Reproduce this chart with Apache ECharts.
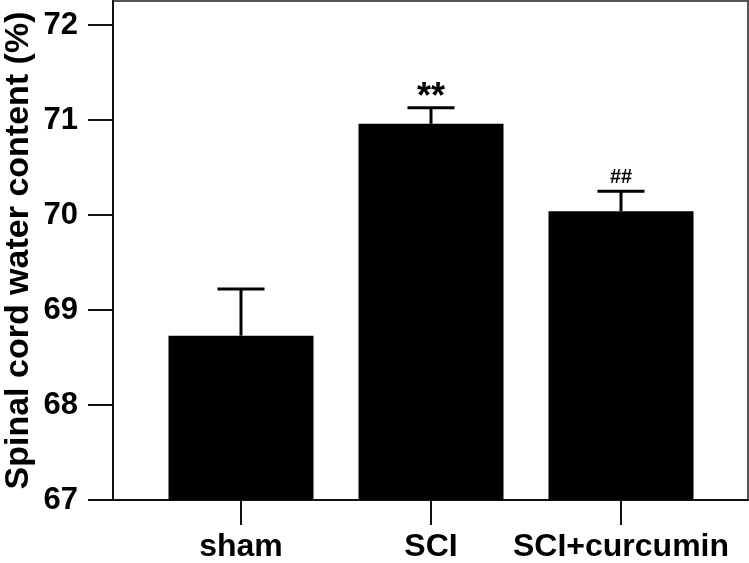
<!DOCTYPE html>
<html><head><meta charset="utf-8">
<script src="https://cdn.jsdelivr.net/npm/echarts@6/dist/echarts.min.js"></script>
<style>html,body{margin:0;padding:0;background:#fff}#c{width:749px;height:563px}</style>
</head><body><div id="c"></div>
<script>
var categories = ['sham', 'SCI', 'SCI+curcumin'];
var means = [68.73, 70.96, 70.04];
var errs = [0.49, 0.17, 0.21];
var marks = ['', '**', '##'];
var yTicks = [67, 68, 69, 70, 71, 72];

var FONT = '"Liberation Sans", Arial, sans-serif';
var chart = echarts.init(document.getElementById('c'), null, {renderer: 'canvas'});

var errData = categories.map(function (c, i) { return [i, means[i], means[i] + errs[i], marks[i]]; });

chart.setOption({
  animation: false,
  backgroundColor: '#fff',
  grid: [
    {left: 113, right: 1, top: 1, bottom: 63, show: true, borderColor: '#555', borderWidth: 2, backgroundColor: 'transparent', containLabel: false, outerBoundsMode: 'none'},
    {left: 146, right: 33, top: 25, bottom: 63, containLabel: false, outerBoundsMode: 'none'}
  ],
  xAxis: [
    {type: 'value', gridIndex: 0, min: 0, max: 1, axisLine: {show: true, lineStyle: {color: '#111', width: 2}}, axisTick: {show: false}, axisLabel: {show: false}, splitLine: {show: false}},
    {type: 'category', gridIndex: 1, data: categories, boundaryGap: true,
     axisLine: {show: false}, axisTick: {show: true, inside: false, length: 25, alignWithLabel: true, lineStyle: {color: '#111', width: 2}},
     axisLabel: {margin: 31, interval: 0, color: '#000', fontFamily: FONT, fontWeight: 'bold', fontSize: 32}}
  ],
  yAxis: [
    {type: 'value', gridIndex: 0, min: 0, max: 1, axisLine: {show: true, lineStyle: {color: '#111', width: 2}}, axisTick: {show: false}, axisLabel: {show: false}, splitLine: {show: false},
     name: 'Spinal cord water content (%)', nameLocation: 'middle', nameRotate: 90, nameGap: 77,
     nameTextStyle: {color: '#000', fontFamily: FONT, fontWeight: 'bold', fontSize: 34}},
    {type: 'value', gridIndex: 1, min: yTicks[0], max: yTicks[yTicks.length - 1], interval: 1, offset: 33,
     axisLine: {show: false}, axisTick: {show: true, length: 25, lineStyle: {color: '#111', width: 2}},
     axisLabel: {margin: 35, color: '#000', fontFamily: FONT, fontWeight: 'bold', fontSize: 31},
     splitLine: {show: false}}
  ],
  series: [
    {type: 'bar', xAxisIndex: 1, yAxisIndex: 1, data: means, barWidth: 145, itemStyle: {color: '#000'}, z: 3},
    {type: 'custom', xAxisIndex: 1, yAxisIndex: 1, data: errData, z: 4,
     renderItem: function (params, api) {
       var x = api.value(0);
       var p0 = api.coord([x, api.value(1)]);
       var p1 = api.coord([x, api.value(2)]);
       var half = 23.5;
       var kids = [
         {type: 'line', shape: {x1: p0[0], y1: p0[1], x2: p1[0], y2: p1[1]}, style: {stroke: '#000', lineWidth: 3}},
         {type: 'line', shape: {x1: p1[0] - half, y1: p1[1], x2: p1[0] + half, y2: p1[1]}, style: {stroke: '#000', lineWidth: 3}}
       ];
       var m = api.value(3);
       if (m) {
         var isStar = m.indexOf('*') >= 0;
         kids.push({type: 'text', x: p1[0], y: p1[1] + (isStar ? 8 : -4),
           style: {text: m, fill: '#000', font: 'bold ' + (isStar ? 36 : 20) + 'px ' + FONT, align: 'center', verticalAlign: 'bottom'}});
       }
       return {type: 'group', children: kids};
     }}
  ]
});
</script></body></html>
